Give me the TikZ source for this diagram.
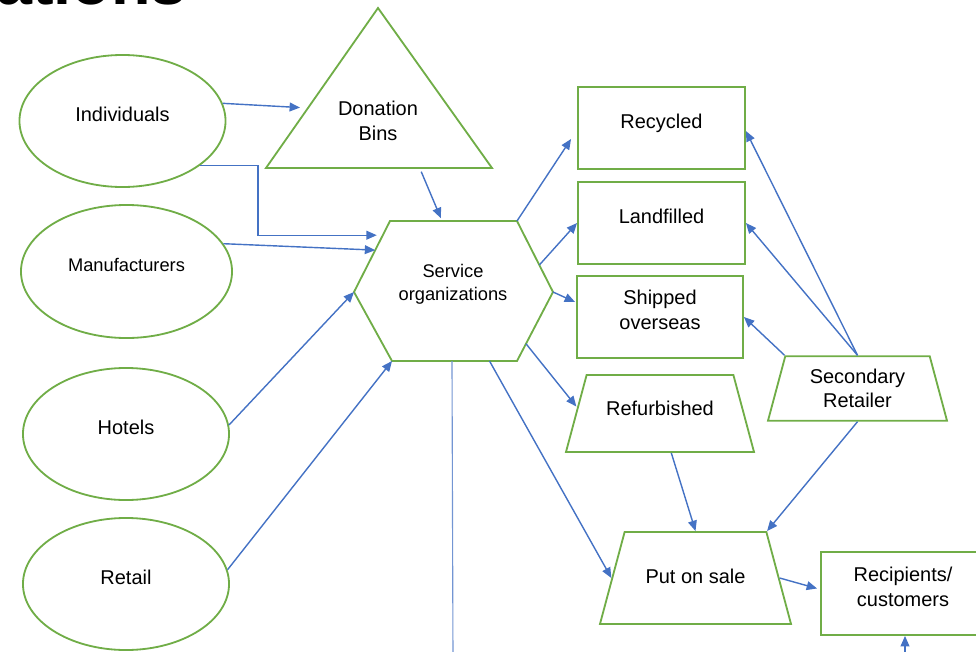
\documentclass[tikz,border=0pt]{standalone}
\usepackage{fontspec}
\setmainfont{Liberation Sans}
\usetikzlibrary{arrows.meta,positioning,calc,shapes.geometric}
\definecolor{shapeGreen}{RGB}{112,173,71}
\definecolor{flowBlue}{RGB}{68,114,196}
\tikzset{
  shape line/.style={draw=shapeGreen,line width=1.3pt},
  small text/.style={font=\fontsize{13}{16.3}\selectfont},
  source node/.style={ellipse,shape line,inner sep=0pt,minimum width=5.15cm,minimum height=3.3cm,text depth=0.35cm},
  outcome node/.style={rectangle,shape line,align=center,minimum width=4.175cm,minimum height=2.05cm,text depth=0.35cm},
  trap node/.style={trapezium,trapezium left angle=75,trapezium right angle=75,trapezium stretches body=true,shape line,align=center,inner xsep=0pt},
  flow arrow/.style={-{Triangle[length=2.6mm,width=2.2mm]},line width=1pt,draw=flowBlue},
  flow line/.style={line width=0.8pt,draw=flowBlue!75}
}

\begin{document}
\begin{tikzpicture}[x=0.025cm,y=-0.025cm,font=\fontsize{14.2}{17.5}\selectfont]
  \useasboundingbox (0,0) rectangle (976,652);
  \clip (0,0) rectangle (976,652);
  % title, cut by the frame
  \node[font=\bfseries\fontsize{46}{46}\selectfont,anchor=base east,inner sep=0pt] (title) at (187,4) {ations};

  % where donations come from
  \node[source node] (indiv) at (122.5,121) {Individuals};
  \node[source node,small text,minimum width=5.275cm,minimum height=3.325cm] (manuf) at (126.5,271.5) {Manufacturers};
  \node[source node] (hotels) at (126,434) {Hotels};
  \node[source node] (retail) at (126,584) {Retail};

  % donation bins
  \coordinate (db-l) at (266,168);
  \coordinate (db-t) at (378,8);
  \coordinate (db-r) at (492,168);
  \draw[shape line] (db-l) -- (db-t) -- (db-r) -- cycle;
  \node[align=center] (bins) at (378,121) {Donation\\Bins};

  % service organizations
  \coordinate (so-nw) at (390,221);
  \coordinate (so-ne) at (517,221);
  \coordinate (so-e) at (553,292);
  \coordinate (so-se) at (517,361);
  \coordinate (so-sw) at (392,361);
  \coordinate (so-w) at (354,292);
  \draw[shape line] (so-nw) -- (so-ne) -- (so-e) -- (so-se) -- (so-sw) -- (so-w) -- cycle;
  \node[align=center,small text] (serv) at (453,284) {Service\\organizations};

  % where they end up
  \node[outcome node] (recyc) at (661.5,128) {Recycled};
  \node[outcome node] (landf) at (661.5,223) {Landfilled};
  \node[outcome node,minimum width=4.15cm] (ship) at (660,317) {Shipped\\overseas};
  \node[trap node,minimum width=4.7cm,text height=0.375cm,text depth=0.275cm,inner ysep=0.6375cm] (refurb) at (660,413.5) {Refurbished};
  \node[trap node,minimum width=4.475cm,inner ysep=0.316cm] (second) at (857.5,388.5) {Secondary\\Retailer};
  \node[trap node,minimum width=4.775cm,text height=0.375cm,text depth=0.125cm,inner ysep=0.9cm] (sale) at (695.5,578) {Put on sale};
  \node[outcome node,minimum width=4.1cm,minimum height=2.075cm] (recip) at (903,593.5) {Recipients/\\customers};
  \coordinate (recip-in) at (905,660);
  \coordinate (serv-out) at (453,660);

  % flows in
  \draw[flow arrow,shorten >=0.2cm] (indiv.10) -- ($(db-l)!0.375!(db-t)$);
  \draw[flow arrow,shorten >=0.15cm] (indiv.-30) -- ++(58,0) |- ($(so-nw)!0.2!(so-w)$);
  \draw[flow arrow] (manuf.16) -- ($(so-nw)!0.41!(so-w)$);
  \draw[flow arrow] (hotels.5) -- (so-w);
  \draw[flow arrow] (retail.8) -- (so-sw);
  \draw[flow arrow,shorten <=0.1cm,shorten >=0.075cm] ($(db-l)!0.68!(db-r)$) -- ($(so-nw)!0.41!(so-ne)$);

  % flows out
  \draw[flow arrow] (so-ne) -- ([shift={(-6,11)}]recyc.west);
  \draw[flow arrow] ($(so-ne)!0.62!(so-e)$) -- (landf.west);
  \draw[flow arrow] (so-e) -- ([shift={(-1,-15)}]ship.west);
  \draw[flow arrow] ($(so-e)!0.75!(so-se)$) -- ([shift={(1,-7)}]refurb.left side);
  \draw[flow arrow] ($(so-sw)!0.78!(so-se)$) -- (sale.left side);
  \draw[flow line] ($(so-sw)!0.48!(so-se)$) -- (serv-out);
  \draw[flow arrow] (second.north) -- ([yshift=-0.075cm]recyc.east);
  \draw[flow arrow] (second.north) -- (landf.east);
  \draw[flow arrow] (second.top left corner) -- (ship.east);
  \draw[flow arrow] (second.south) -- (sale.top right corner);
  \draw[flow arrow] (refurb.-74) -- (sale.north);
  \draw[flow arrow] (sale.east) -- ([shift={(-3,-5)}]recip.west);
  \draw[flow arrow] (recip-in) -- (recip-in |- recip.south);
\end{tikzpicture}
\end{document}
